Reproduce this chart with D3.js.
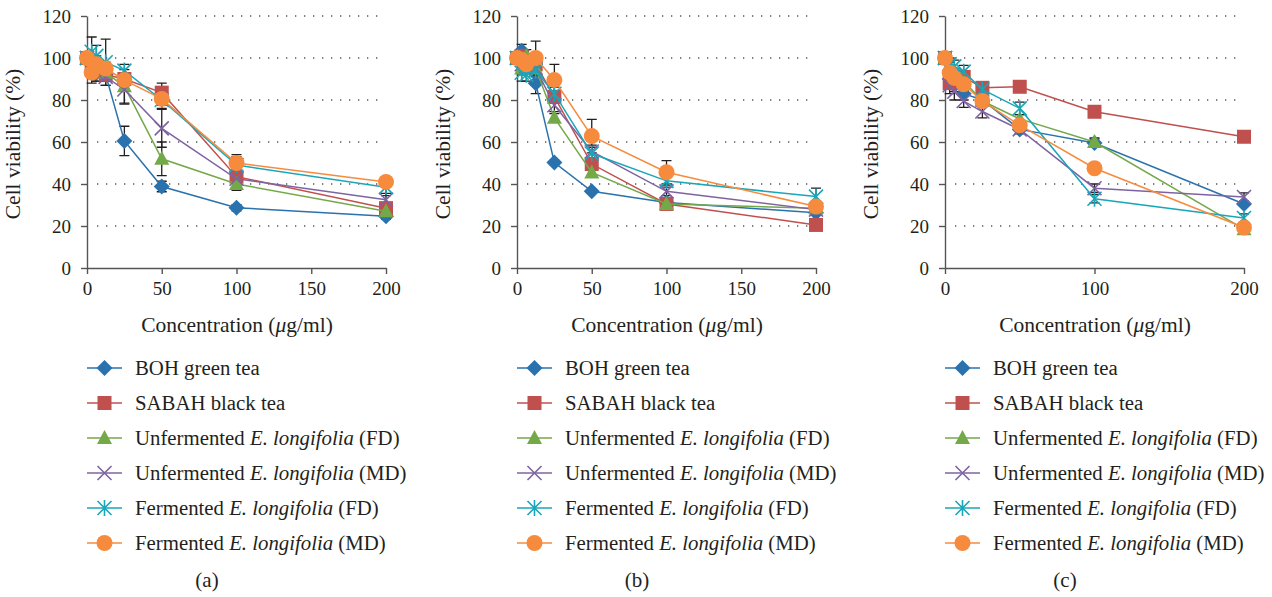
<!DOCTYPE html>
<html>
<head>
<meta charset="utf-8">
<script src="https://cdn.jsdelivr.net/npm/d3@7"></script>
<style>
  body { margin: 0; background: #fff; }
  svg text { font-family: "Liberation Serif", "Times New Roman", serif; fill: #231f20; }
</style>
</head>
<body>
<div id="corpo"></div>
<script>
// concentrations (ug/ml)
var conc = [0, 3.125, 6.25, 12.5, 25, 50, 100, 200];

var seriesNames = ["BOH green tea", "SABAH black tea", "Unfermented E. longifolia (FD)",
  "Unfermented E. longifolia (MD)", "Fermented E. longifolia (FD)", "Fermented E. longifolia (MD)"];
var legendPre = ["BOH green tea", "SABAH black tea", "Unfermented ", "Unfermented ", "Fermented ", "Fermented "];
var legendItal = ["", "", "E. longifolia", "E. longifolia", "E. longifolia", "E. longifolia"];
var legendPost = ["", "", " (FD)", " (MD)", " (FD)", " (MD)"];
var panelLabels = ["(a)", "(b)", "(c)"];

// cell viability (%) per series, panel (a)
var valuesA = [
  [100, 97, 93, 92, 60.5, 38.8, 28.7, 24.7],
  [100, 95, 94, 92, 90, 83.5, 43.5, 28.5],
  [100, 96, 95, 93, 86.5, 52, 40, 27],
  [100, 96, 93, 91, 85, 66.5, 42.5, 32.5],
  [100, 103, 101, 98, 94, 80, 49, 38.5],
  [100, 93, 97, 95, 89.5, 80.5, 50, 41]
];
var errorsA = [
  [0, 3, 4, 3, 7, 2.5, 1.5, 1.5],
  [0, 3, 3, 3, 3, 4.5, 3, 2],
  [0, 3, 3, 3, 8, 8, 3, 2],
  [0, 4, 4, 4, 7, 9, 4, 3],
  [0, 7, 5, 11, 3, 4, 5, 4],
  [0, 5, 4, 3, 3, 3, 3, 2]
];
// panel (b)
var valuesB = [
  [100, 103.5, 98, 88, 50.2, 36.5, 31.2, 26.3],
  [100, 101, 97, 97, 81.5, 49.5, 30.5, 20.5],
  [100, 95, 101, 95, 71.5, 45.5, 30.5, 28.5],
  [100, 97, 96, 95, 77.5, 55.5, 36.5, 27.8],
  [100, 93, 92, 94, 83, 54.5, 41.5, 34],
  [100, 99, 97, 100, 89.5, 62.8, 45.6, 29.3]
];
var errorsB = [
  [0, 3, 4, 5, 1, 1, 1, 1],
  [0, 3, 3, 3, 3, 3, 2, 1],
  [0, 3, 3, 3, 2, 2, 2, 1],
  [0, 3, 3, 3, 3, 3, 2, 1],
  [0, 4, 3, 3, 3, 3, 2, 4],
  [0, 3, 4, 8, 7.5, 8, 5.5, 2]
];
// panel (c)
var valuesC = [
  [100, 90, 87, 83, 80, 66, 59.5, 30.5],
  [100, 88, 89, 91, 85.8, 86.3, 74.4, 62.5],
  [100, 95, 92, 89, 79.5, 71, 60, 18.5],
  [100, 87, 84, 79.5, 74.5, 66, 38, 33.8],
  [100, 97, 96, 93.5, 85, 76, 33, 23.8],
  [100, 93, 90.5, 87.5, 79.5, 68, 47.5, 19.3]
];
var errorsC = [
  [0, 3, 3, 3, 2, 2, 2, 1],
  [0, 2, 2, 2, 1, 1, 1, 1],
  [0, 3, 3, 3, 2, 2, 2, 1],
  [0, 4, 4, 3, 3, 2, 2, 2],
  [0, 3, 3, 3, 2, 3, 2, 2],
  [0, 3, 3, 3, 2, 2, 2, 1]
];

var xTicksAB = [0, 50, 100, 150, 200];
var xTicksC = [0, 100, 200];
var yTicks = [0, 20, 40, 60, 80, 100, 120];

var colors = ["#2a72ad", "#c0504d", "#74a94a", "#7f63a1", "#1aa6b9", "#f68b3e"];
var shapes = ["diamond", "square", "triangle", "x", "star", "circle"];

var panels = [
  { left: 87, values: valuesA, errors: errorsA, xt: xTicksAB },
  { left: 517, values: valuesB, errors: errorsB, xt: xTicksAB },
  { left: 945, values: valuesC, errors: errorsC, xt: xTicksC }
];

var width = 1272, height = 597;
var svg = d3.select("#corpo").append("svg")
  .attr("width", width)
  .attr("height", height);

var y = d3.scaleLinear().domain([0, 120]).range([268, 16]);

function marker(g, shape, color) {
  if (shape == "diamond") {
    g.append("path").attr("d", "M0,-8L8,0L0,8L-8,0Z").style("fill", color);
  } else if (shape == "square") {
    g.append("rect").attr("x", -7).attr("y", -7).attr("width", 14).attr("height", 14).style("fill", color);
  } else if (shape == "triangle") {
    g.append("path").attr("d", "M0,-8L7.5,6L-7.5,6Z").style("fill", color);
  } else if (shape == "x") {
    g.append("path").attr("d", "M-7,-7L7,7M-7,7L7,-7").style("stroke", color).style("stroke-width", 1.6).style("fill", "none");
  } else if (shape == "star") {
    g.append("path").attr("d", "M-7,-7L7,7M-7,7L7,-7M0,-8L0,8").style("stroke", color).style("stroke-width", 1.6).style("fill", "none");
  } else {
    g.append("circle").attr("r", 8).style("fill", color);
  }
}

panels.forEach(function(p, pi) {
  var x = d3.scaleLinear().domain([0, 200]).range([p.left, p.left + 299]);
  var g = svg.append("g");

  // dotted gridlines
  g.selectAll(".grid").data(yTicks.slice(1)).enter().append("line")
    .attr("x1", p.left + 10).attr("x2", p.left + 291)
    .attr("y1", function(d) { return y(d); }).attr("y2", function(d) { return y(d); })
    .style("stroke", "#555").style("stroke-width", 1.3)
    .style("stroke-dasharray", "1.3,7.7");

  var xAxis = g.append("g").attr("transform", "translate(0,268)")
    .call(d3.axisBottom(x).tickValues(p.xt).tickSize(6).tickSizeOuter(0).tickFormat(d3.format("d")));
  var yAxis = g.append("g").attr("transform", "translate(" + p.left + ",0)")
    .call(d3.axisLeft(y).tickValues(yTicks).tickSize(6).tickSizeOuter(0));
  [xAxis, yAxis].forEach(function(a) {
    a.select(".domain").style("stroke", "#555").style("stroke-width", 1.4);
    a.selectAll(".tick line").style("stroke", "#555").style("stroke-width", 1.4);
    a.selectAll(".tick text").style("font-family", "Liberation Serif").style("font-size", "19px").style("fill", "#231f20");
  });
  xAxis.selectAll(".tick text").attr("y", 14);
  yAxis.selectAll(".tick text").attr("x", -16);

  g.append("text").attr("x", p.left + 150).attr("y", 332)
    .attr("text-anchor", "middle").style("font-size", "21.5px")
    .html("Concentration (<tspan font-style='italic'>μ</tspan>g/ml)");
  g.append("text").attr("transform", "translate(" + (p.left - 67) + ",144) rotate(-90)")
    .attr("text-anchor", "middle").style("font-size", "21.5px")
    .text("Cell viability (%)");

  var line = d3.line().x(function(d, i) { return x(conc[i]); }).y(function(d) { return y(d); });

  // error bars
  p.values.forEach(function(vals, si) {
    var eg = g.append("g");
    vals.forEach(function(v, i) {
      var e = p.errors[si][i];
      if (!e) return;
      var cx = x(conc[i]);
      eg.append("path")
        .attr("d", "M" + cx + "," + y(v - e) + "L" + cx + "," + y(v + e) +
          "M" + (cx - 5) + "," + y(v + e) + "L" + (cx + 5) + "," + y(v + e) +
          "M" + (cx - 5) + "," + y(v - e) + "L" + (cx + 5) + "," + y(v - e))
        .style("stroke", "#231f20").style("stroke-width", 1.3).style("fill", "none");
    });
  });

  p.values.forEach(function(vals, si) {
    g.append("path").datum(vals).attr("d", line)
      .style("fill", "none").style("stroke", colors[si]).style("stroke-width", 1.5);
    g.selectAll(".m" + si).data(vals).enter().append("g")
      .attr("transform", function(d, i) { return "translate(" + x(conc[i]) + "," + y(d) + ")"; })
      .each(function() { marker(d3.select(this), shapes[si], colors[si]); });
  });

  // legend
  seriesNames.forEach(function(name, si) {
    var ly = 368 + si * 35;
    var lg = svg.append("g").attr("transform", "translate(" + p.left + "," + ly + ")");
    lg.append("line").attr("x1", 0).attr("x2", 35).style("stroke", colors[si]).style("stroke-width", 1.5);
    var mg = lg.append("g").attr("transform", "translate(17.5,0)");
    marker(mg, shapes[si], colors[si]);
    var t = lg.append("text").attr("x", 48).attr("y", 7).style("font-size", "20.8px");
    t.append("tspan").text(legendPre[si]);
    if (legendItal[si]) t.append("tspan").style("font-style", "italic").text(legendItal[si]);
    if (legendPost[si]) t.append("tspan").text(legendPost[si]);
  });

  svg.append("text").attr("x", p.left + 120).attr("y", 587)
    .attr("text-anchor", "middle").style("font-size", "21px").text(panelLabels[pi]);
});
</script>
</body>
</html>
